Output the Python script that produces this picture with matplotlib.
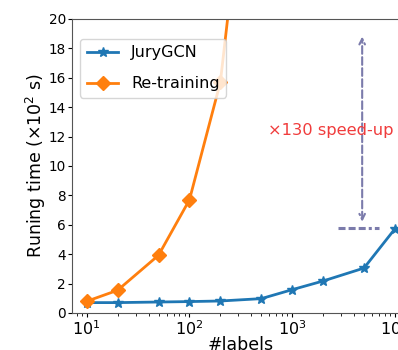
import matplotlib
matplotlib.use("Agg")
import matplotlib.pyplot as plt

labels = [10, 20, 50, 100, 200, 500, 1000, 2000, 5000, 10000]
jury_gcn = [0.70, 0.70, 0.74, 0.77, 0.81, 0.97, 1.58, 2.17, 3.05, 5.72]
retraining = [0.79, 1.54, 3.92, 7.69, 15.7, 40.0, 77.0, 150.0, 375.0, 744.0]

fig = plt.figure(figsize=(3.98, 3.5), dpi=100)
ax = fig.add_axes([0.181, 0.106, 0.849, 0.840])

ax.plot(labels, jury_gcn, color="#1f77b4", marker="*", markersize=7, linewidth=2, label="JuryGCN")
ax.plot(labels, retraining, color="#ff7f0e", marker="D", markersize=7, linewidth=2, label="Re-training")

ax.set_xscale("log")
ax.set_xlim(7.2, 14000)
ax.set_ylim(0, 20)
ax.set_yticks(range(0, 21, 2))
ax.tick_params(axis="x", which="major", labelsize=11.5, length=3, pad=1.5)
ax.tick_params(axis="x", which="minor", length=2)
ax.tick_params(axis="y", labelsize=9.8, length=3, pad=1.5)

ax.set_xlabel("#labels", fontsize=12.5)
ax.xaxis.set_label_coords(0.5, -0.08)
ax.set_ylabel("Runing time ($\\times 10^2$ s)", fontsize=12.5)
ax.yaxis.set_label_coords(-0.07, 0.5)

for s in ax.spines.values():
    s.set_color("#555555")

# speed-up annotation
ax.annotate("", xy=(4800, 18.8), xytext=(4800, 6.2),
            arrowprops=dict(arrowstyle="<->", linestyle="--", color="#7b7bab",
                            linewidth=1.5, shrinkA=0, shrinkB=0))
ax.plot([2800, 7000], [5.78, 5.78], linestyle=(0, (2.3, 1, 2.3, 1, 2.3, 1, 1, 1)),
        color="#7b7bab", linewidth=2.2)
ax.text(2350, 12.4, "×130 speed-up", color="#f03c3c", fontsize=11.7, ha="center", va="center")

ax.legend(loc="upper left", fontsize=11.5, bbox_to_anchor=(0.024, 0.932),
          borderaxespad=0, labelspacing=1.0)

fig.savefig("out.png", dpi=100)
